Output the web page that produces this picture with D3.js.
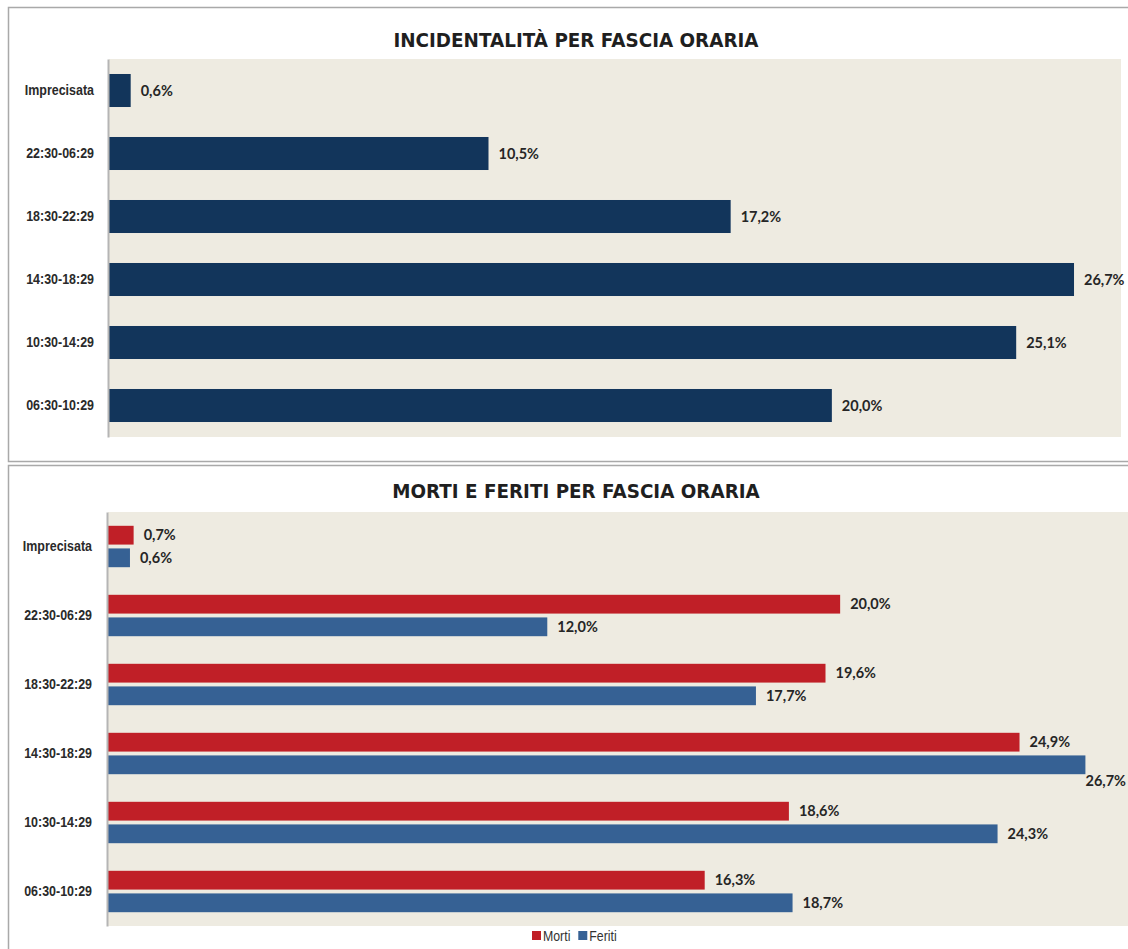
<!DOCTYPE html>
<html>
<head>
<meta charset="utf-8">
<script src="https://cdn.jsdelivr.net/npm/d3@7"></script>
<style>
  body { margin: 0; background: #fff; }
  svg { display: block; }
</style>
</head>
<body>
<svg id="chart" width="1128" height="949"></svg>
<script>
// dati (dall'alto verso il basso)
var categories = ["Imprecisata", "22:30-06:29", "18:30-22:29", "14:30-18:29", "10:30-14:29", "06:30-10:29"];
var incidenti = [0.6, 10.5, 17.2, 26.7, 25.1, 20.0];
var morti = [0.7, 20.0, 19.6, 24.9, 18.6, 16.3];
var feriti = [0.6, 12.0, 17.7, 26.7, 24.3, 18.7];
var seriesNames = ["Morti", "Feriti"];

var W = 1128, H = 949;
var svg = d3.select("#chart");
var it = d3.formatLocale({decimal: ",", thousands: ".", grouping: [3], currency: ["", "€"]});
var fmt = function(v) { return it.format(".1f")(v) + "%"; };

var catFont = "'Liberation Sans Narrow', 'Arial Narrow', 'Liberation Sans', sans-serif";
var valFont = "Lato, 'Open Sans', sans-serif";
var colors = {Morti: "#c01f27", Feriti: "#366194"};

// testo "stretto" come l'Arial Narrow dell'originale
function narrow(sel, k) {
    sel.each(function() {
        var len = this.getComputedTextLength();
        d3.select(this).attr("textLength", len * k).attr("lengthAdjust", "spacingAndGlyphs");
    });
}

// cornici dei due pannelli
svg.append("rect").attr("x", 8.5).attr("y", 7.5).attr("width", W + 10).attr("height", 454)
    .attr("fill", "#fff").attr("stroke", "#a9a9a9").attr("stroke-width", 1.5);
svg.append("rect").attr("x", 8.5).attr("y", 465.5).attr("width", W + 10).attr("height", H)
    .attr("fill", "#fff").attr("stroke", "#a9a9a9").attr("stroke-width", 1.5);

function title(txt, y) {
    svg.append("text")
        .attr("x", 576).attr("y", y)
        .attr("text-anchor", "middle")
        .style("font-family", "'DejaVu Sans', sans-serif")
        .style("font-weight", "bold")
        .style("font-size", "19px")
        .attr("fill", "#1f1f1f")
        .text(txt)
        .call(narrow, 0.965);
}

function valueLabel(g, x, y, v) {
    var t = g.append("text")
        .attr("x", x).attr("y", y).attr("dy", "0.35em")
        .style("font-family", valFont)
        .style("font-weight", "bold")
        .style("font-size", "14.5px")
        .attr("fill", "#262626")
        .text(fmt(v));
    return t;
}

// ---- grafico 1: incidentalità ----
title("INCIDENTALITÀ PER FASCIA ORARIA", 47);

var m1 = {left: 109, top: 59, right: 1121, bottom: 437};
var x1 = d3.scaleLinear().domain([0, 28]).range([m1.left, m1.right]);
var y1 = d3.scaleBand().domain(categories).range([m1.top, m1.bottom])
    .paddingInner(0.476).paddingOuter(0.238);

var g1 = svg.append("g");
g1.append("rect").attr("x", m1.left).attr("y", m1.top)
    .attr("width", m1.right - m1.left).attr("height", m1.bottom - m1.top).attr("fill", "#eeebe1");

g1.selectAll(".bar")
    .data(categories)
    .enter().append("rect")
    .attr("class", "bar")
    .attr("x", x1(0))
    .attr("y", function(d) { return y1(d); })
    .attr("width", function(d, i) { return x1(incidenti[i]) - x1(0); })
    .attr("height", y1.bandwidth())
    .attr("fill", "#12355b");

categories.forEach(function(c, i) {
    valueLabel(g1, x1(incidenti[i]) + 10, y1(c) + y1.bandwidth() / 2, incidenti[i]);
});

var ax1 = g1.append("g")
    .attr("transform", "translate(" + (m1.left - 1) + ",0)")
    .call(d3.axisLeft(y1).tickSize(0).tickPadding(14));
ax1.select(".domain").attr("stroke", "#b5b5b5").attr("stroke-width", 2);
ax1.selectAll("text").style("font-family", catFont).style("font-weight", "bold")
    .style("font-size", "15px").attr("fill", "#2a2a2a").call(narrow, 0.83);

// ---- grafico 2: morti e feriti ----
title("MORTI E FERITI PER FASCIA ORARIA", 498);

var m2 = {left: 108, top: 512, right: 1133, bottom: 926};
var x2 = d3.scaleLinear().domain([0, 28]).range([m2.left, m2.right]);
var y2 = d3.scaleBand().domain(categories).range([m2.top, m2.bottom])
    .paddingInner(0.4).paddingOuter(0.2);
var ys = d3.scaleBand().domain(seriesNames).range([0, y2.bandwidth()]).paddingInner(0.17);

var g2 = svg.append("g");
g2.append("rect").attr("x", m2.left).attr("y", m2.top)
    .attr("width", m2.right - m2.left).attr("height", m2.bottom - m2.top).attr("fill", "#eeebe1");

var rows = categories.map(function(c, i) {
    return {cat: c, vals: [{s: "Morti", v: morti[i]}, {s: "Feriti", v: feriti[i]}]};
});

var grp = g2.selectAll(".grp")
    .data(rows)
    .enter().append("g")
    .attr("class", "grp")
    .attr("transform", function(d) { return "translate(0," + y2(d.cat) + ")"; });

grp.selectAll("rect")
    .data(function(d) { return d.vals; })
    .enter().append("rect")
    .attr("x", x2(0))
    .attr("y", function(d) { return ys(d.s); })
    .attr("width", function(d) { return x2(d.v) - x2(0); })
    .attr("height", ys.bandwidth())
    .attr("fill", function(d) { return colors[d.s]; });

grp.each(function(d) {
    var g = d3.select(this);
    d.vals.forEach(function(e) {
        var t = valueLabel(g, x2(e.v) + 10, ys(e.s) + ys.bandwidth() / 2, e.v);
        var tw = t.node().getComputedTextLength();
        // etichetta che non entra: spostata sotto la barra
        if (x2(e.v) + 10 + tw > W) {
            t.attr("x", Math.min(x2(e.v) + 5, W - tw - 2))
             .attr("y", ys(e.s) + ys.bandwidth() / 2 + 16);
        }
    });
});

var ax2 = g2.append("g")
    .attr("transform", "translate(" + (m2.left - 1) + ",0)")
    .call(d3.axisLeft(y2).tickSize(0).tickPadding(15));
ax2.select(".domain").attr("stroke", "#b5b5b5").attr("stroke-width", 2);
ax2.selectAll("text").style("font-family", catFont).style("font-weight", "bold")
    .style("font-size", "15px").attr("fill", "#2a2a2a").call(narrow, 0.83);

// legenda
var leg = svg.append("g").attr("transform", "translate(532,931)");
var lx = 0;
seriesNames.forEach(function(s) {
    leg.append("rect").attr("x", lx).attr("y", 0).attr("width", 9).attr("height", 9).attr("fill", colors[s]);
    var t = leg.append("text").attr("x", lx + 11).attr("y", 9.5)
        .style("font-family", catFont).style("font-size", "14.5px").attr("fill", "#333")
        .text(s).call(narrow, 0.85);
    lx += 11 + t.node().getComputedTextLength() * 0.85 + 12;
});
</script>
</body>
</html>
